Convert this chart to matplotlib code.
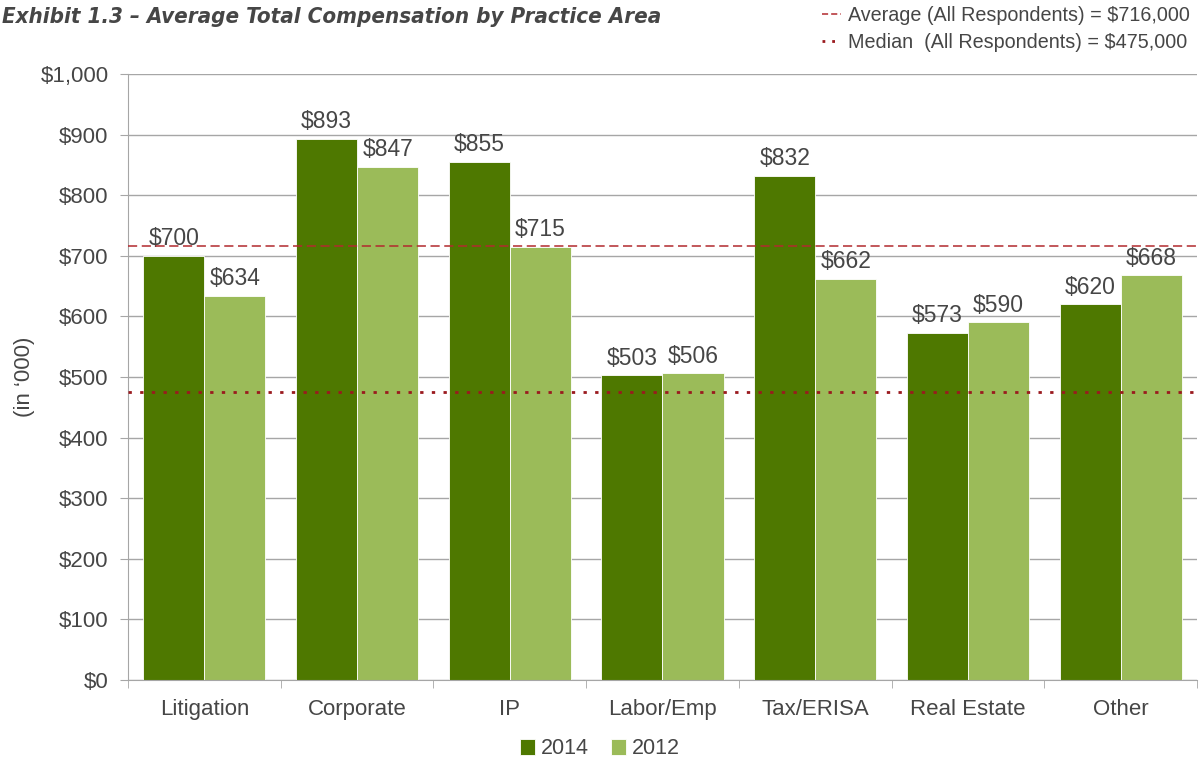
import numpy as np
import matplotlib.pyplot as plt
from matplotlib.lines import Line2D

areas = ['Litigation', 'Corporate', 'IP', 'Labor/Emp', 'Tax/ERISA', 'Real Estate', 'Other']
comp_2014 = [700, 893, 855, 503, 832, 573, 620]
comp_2012 = [634, 847, 715, 506, 662, 590, 668]
avg_all = 716
median_all = 475

dark = '#4e7800'
light = '#9bbb59'
txt = '#464646'
grey = '#a6a6a6'

plt.rcParams['font.family'] = ['Liberation Sans', 'DejaVu Sans']

fig = plt.figure(figsize=(12.03, 7.62), dpi=100)
ax = fig.add_axes([0.1064, 0.1076, 0.8886, 0.7954])

x = np.arange(len(areas))
w = 0.4
b1 = ax.bar(x - w / 2, comp_2014, w, color=dark, edgecolor='white', linewidth=0.6, label='2014', zorder=2)
b2 = ax.bar(x + w / 2, comp_2012, w, color=light, edgecolor='white', linewidth=0.6, label='2012', zorder=2)

for bars in (b1, b2):
    for r in bars:
        h = r.get_height()
        ax.annotate(f'${h:.0f}', (r.get_x() + r.get_width() / 2, h), xytext=(0, 4),
                    textcoords='offset points', ha='center', va='bottom', fontsize=16.5, color=txt)

avg_line = ax.axhline(avg_all, color='#b22a2e', ls=(0, (6, 3)), lw=1.1, zorder=3)
med_line = ax.axhline(median_all, color='#9a1a1e', ls=(0, (1.2, 3)), lw=2, zorder=3)

ax.set_xlim(-0.5, len(areas) - 0.5)
ax.set_ylim(0, 1000)
ax.set_yticks(np.arange(0, 1001, 100))
ax.set_yticklabels([f'${v:,}' for v in range(0, 1001, 100)])
ax.yaxis.grid(True, color=grey, lw=1, zorder=0)
ax.set_axisbelow(True)

ax.set_xticks(x)
ax.set_xticklabels(areas)
ax.set_xticks(np.arange(-0.5, len(areas), 1), minor=True)
ax.tick_params(axis='x', which='major', length=0, pad=14, labelsize=16, labelcolor=txt)
ax.tick_params(axis='x', which='minor', length=6, color=grey, direction='out')
ax.tick_params(axis='y', length=6, color=grey, labelsize=16, labelcolor=txt, pad=8)

for s in ['top', 'right']:
    ax.spines[s].set_visible(False)
for s in ['left', 'bottom']:
    ax.spines[s].set_color(grey)

ax.set_ylabel('(in \u2018000)', fontsize=16, color=txt, labelpad=4)

fig.text(2 / 1203, 1 - 17 / 762, 'Exhibit 1.3 \u2013 Average Total Compensation by Practice Area',
         ha='left', va='center', fontsize=16, fontweight='bold', fontstyle='oblique',
         fontstretch='condensed', color=txt, family=['DejaVu Sans'])

h1 = Line2D([], [], color='#b22a2e', ls=(0, (4, 2)), lw=1.1)
h2 = Line2D([], [], color='#9a1a1e', ls=(0, (1, 2.5)), lw=2)
fig.legend([h1, h2], [f'Average (All Respondents) = ${avg_all * 1000:,}',
                      f'Median  (All Respondents) = ${median_all * 1000:,}'],
           loc='upper right', bbox_to_anchor=(1.004, 1.015), frameon=False, fontsize=14.2,
           handlelength=1.0, handletextpad=0.35, labelspacing=0.4, labelcolor=txt)

fig.legend([b1, b2], ['2014', '2012'], loc='center', bbox_to_anchor=(600 / 1203, 1 - 749 / 762),
           ncol=2, frameon=False, fontsize=15.5, handlelength=0.7, handleheight=0.7,
           handletextpad=0.3, columnspacing=1.0, labelcolor=txt)

fig.savefig('out.png', dpi=100)
